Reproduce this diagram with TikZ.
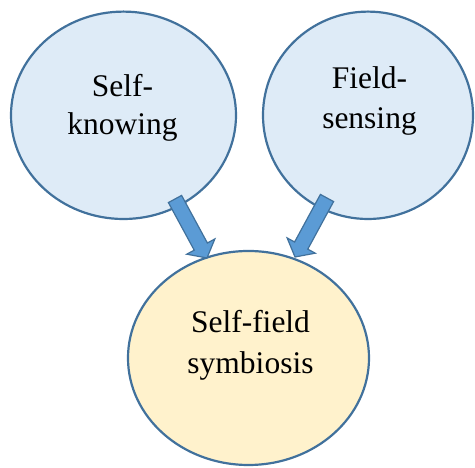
\documentclass[tikz,border=0pt]{standalone}
\usepackage{fontspec}
\setmainfont{Liberation Serif}
\usetikzlibrary{shapes.geometric,calc}

\definecolor{edgeblue}{HTML}{41719C}
\definecolor{paleblue}{HTML}{DEEBF7}
\definecolor{paleyellow}{HTML}{FFF2CC}
\definecolor{arrowblue}{HTML}{5B9BD5}

% block arrow from coordinate #1 to tip #2
\newcommand{\blockarrow}[2]{%
  \coordinate (hb) at ($(#2)!13pt!(#1)$);
  \filldraw[arrowpath]
    ($(#1)!7.5pt!90:(#2)$) -- ($(hb)!7.5pt!90:(#2)$) --
    ($(hb)!16pt!90:(#2)$) -- (#2) -- ($(hb)!16pt!-90:(#2)$) --
    ($(hb)!7.5pt!-90:(#2)$) -- ($(#1)!7.5pt!-90:(#2)$) -- cycle;
}

\begin{document}
\begin{tikzpicture}[x=1pt,y=1pt,
  bubble/.style={ellipse,draw=edgeblue,line width=2.2pt,inner sep=0pt,outer sep=0pt},
  topbubble/.style={bubble,fill=paleblue},
  basebubble/.style={bubble,fill=paleyellow},
  arrowpath/.style={fill=arrowblue,draw=edgeblue,line width=1.2pt,line join=miter},
  caption/.style={align=center,anchor=base,inner sep=0pt}]
  \useasboundingbox (0,0) rectangle (475,468);

  \node[topbubble,minimum width=225pt,minimum height=207.4pt] (sk) at (123.5,352.7) {};
  \node[topbubble,minimum width=210pt,minimum height=207.4pt] (fs) at (368,352.7) {};
  \node[basebubble,minimum width=241pt,minimum height=214pt] (sf) at (248.5,110) {};

  % captions are anchored at the baseline of their last line
  \node[caption,font=\fontsize{31.5}{38.3}\selectfont] (skt) at (122.5,333) {Self-\\knowing};
  \node[caption,font=\fontsize{31.5}{40.7}\selectfont] (fst) at (369.5,339) {Field-\\sensing};
  \node[caption,font=\fontsize{31.5}{40.7}\selectfont] (sft) at (250.5,94.7) {Self-field\\symbiosis};

  \coordinate (ls) at (175,269);
  \coordinate (lt) at (207,210);
  \coordinate (rs) at (327,270);
  \coordinate (rt) at (295,211);
  \blockarrow{ls}{lt}
  \blockarrow{rs}{rt}
\end{tikzpicture}
\end{document}
